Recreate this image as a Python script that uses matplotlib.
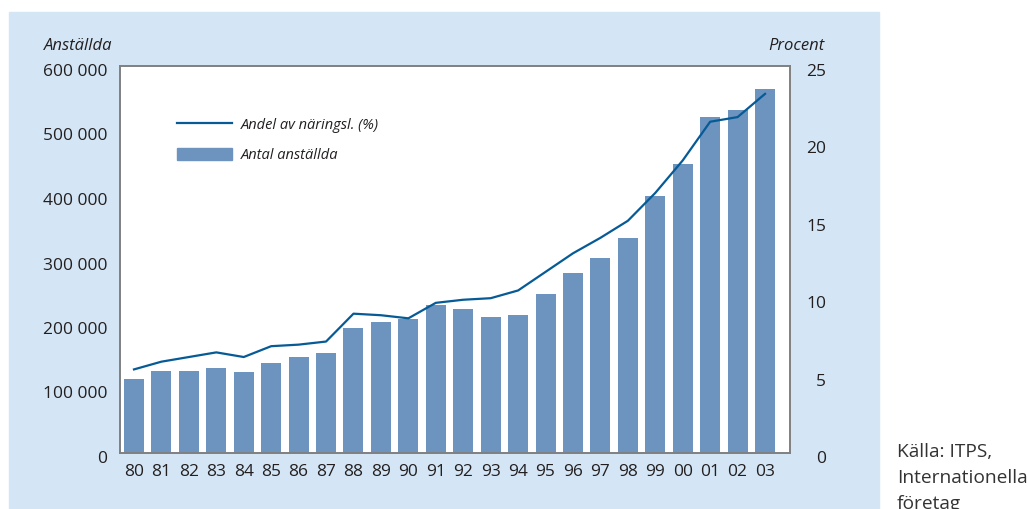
import matplotlib.pyplot as plt
import matplotlib.transforms as mtransforms
from matplotlib.patches import Rectangle
from matplotlib.lines import Line2D

years = ['80', '81', '82', '83', '84', '85', '86', '87', '88', '89', '90', '91',
         '92', '93', '94', '95', '96', '97', '98', '99', '00', '01', '02', '03']
anstallda = [115000, 127000, 127000, 132000, 126000, 140000, 149000, 155000,
             194000, 203000, 208000, 230000, 223000, 211000, 214000, 247000,
             279000, 302000, 333000, 398000, 448000, 521000, 532000, 564000]
andel = [5.4, 5.9, 6.2, 6.5, 6.2, 6.9, 7.0, 7.2, 9.0, 8.9, 8.7, 9.7,
         9.9, 10.0, 10.5, 11.7, 12.9, 13.9, 15.0, 16.8, 18.9, 21.4, 21.7, 23.2]
left_ticks = [0, 100000, 200000, 300000, 400000, 500000, 600000]
right_ticks = [0, 5, 10, 15, 20, 25]

panel_col = '#d4e6f5'
bar_col = '#6d93bf'
line_col = '#065b96'
txt_col = '#231f20'
spine_col = '#808080'

plt.rcParams['font.family'] = ['Open Sans', 'DejaVu Sans']

W, H = 1028, 509
fig = plt.figure(figsize=(W / 100, H / 100), dpi=100)
fig.patches.append(Rectangle((9 / W, 0), 870 / W, (H - 12) / H,
                             transform=fig.transFigure, color=panel_col, zorder=-5))

ax = fig.add_axes([120 / W, (H - 453) / H, 670 / W, 387 / H])
ax.set_facecolor('white')
x = list(range(len(years)))
ax.bar(x, anstallda, width=0.73, color=bar_col, zorder=2)
ax.set_xlim(-0.51, 23.91)
ax.set_ylim(0, 600000)
ax.set_xticks(x)
ax.set_xticklabels(years)
ax.set_yticks(left_ticks)
ax.set_yticklabels([f'{v:,}'.replace(',', ' ') for v in left_ticks])
ax.tick_params(axis='both', length=0, labelsize=12.5, colors=txt_col)
ax.tick_params(axis='y', pad=9)
ax.tick_params(axis='x', pad=8)
for s in ax.spines.values():
    s.set_color(spine_col)
    s.set_linewidth(1.2)

ax2 = ax.twinx()
ax2.plot(x, andel, color=line_col, lw=1.6, zorder=3)
ax2.set_ylim(0, 25)
ax2.set_yticks(right_ticks)
ax2.tick_params(axis='y', length=0, labelsize=12.5, colors=txt_col, pad=26)
for lab in ax2.get_yticklabels():
    lab.set_ha('right')
for s in ax2.spines.values():
    s.set_color(spine_col)
    s.set_linewidth(1.2)

# nudge y tick labels a bit down like the original
off = mtransforms.ScaledTranslation(0, -4 / 100, fig.dpi_scale_trans)
for lab in ax.get_yticklabels() + ax2.get_yticklabels():
    lab.set_transform(lab.get_transform() + off)

fig.text(112 / W, (H - 46) / H, 'Anställda', ha='right', va='center',
         style='italic', fontsize=12, color=txt_col)
fig.text(825 / W, (H - 46) / H, 'Procent', ha='right', va='center',
         style='italic', fontsize=12, color=txt_col)

handles = [Line2D([], [], color=line_col, lw=1.6),
           Rectangle((0, 0), 1, 1, color=bar_col)]
leg = ax.legend(handles, ['Andel av näringsl. (%)', 'Antal anställda'],
                loc='upper left', bbox_to_anchor=(0.085, 0.866), frameon=False,
                borderpad=0, borderaxespad=0, handlelength=3.8, handleheight=0.85,
                handletextpad=0.55, labelspacing=1.05,
                prop={'style': 'italic', 'size': 10.5})
for t in leg.get_texts():
    t.set_color(txt_col)

fig.text(897 / W, (H - 443) / H, 'Källa: ITPS,\nInternationella\nföretag',
         ha='left', va='top', fontsize=13.8, color='#333333', linespacing=1.58)

fig.savefig('out.png', dpi=100)
